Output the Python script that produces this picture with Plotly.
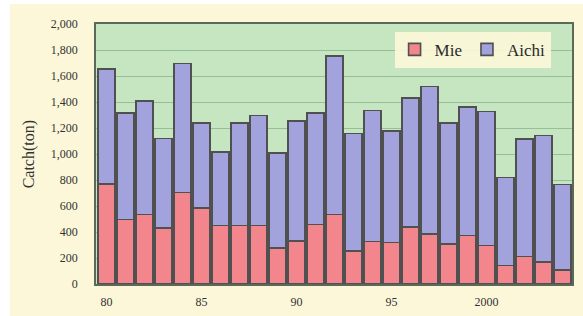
import plotly.graph_objects as go

years = list(range(1980, 2005))
mie = [769, 495, 535, 430, 705, 585, 450, 450, 450, 275,
       330, 458, 535, 252, 328, 318, 438, 384, 308, 374,
       295, 141, 213, 167, 110]
total = [1655, 1315, 1410, 1120, 1697, 1240, 1015, 1238, 1296, 1008,
         1252, 1314, 1755, 1157, 1335, 1176, 1432, 1520, 1238, 1360,
         1326, 820, 1115, 1142, 765]
aichi = [t - m for t, m in zip(total, mie)]
xtick_vals = [1980, 1985, 1990, 1995, 2000]
xtick_text = ["80", "85", "90", "95", "2000"]
ytick_vals = list(range(0, 2001, 200))
ytick_text = [f"{v:,}" for v in ytick_vals]

serif = "Liberation Serif"
edge = dict(color="#505050", width=1.6)

W, H = 583, 316
ML, MR, MT, MB = 96, 11, 24, 32
PW, PH = W - ML - MR, H - MT - MB

fig = go.Figure()
fig.add_trace(go.Bar(x=years, y=mie, name="Mie",
                     marker=dict(color="#f2868c", line=edge)))
fig.add_trace(go.Bar(x=years, y=aichi, name="Aichi",
                     marker=dict(color="#a2a2dc", line=edge)))

white_strips = [
    dict(type="rect", xref="paper", yref="paper", layer="below",
         x0=-ML / PW, x1=(10 - ML) / PW, y0=-MB / PH, y1=(PH + MT) / PH,
         fillcolor="#ffffff", line=dict(width=0)),
    dict(type="rect", xref="paper", yref="paper", layer="below",
         x0=-ML / PW, x1=(PW + MR) / PW, y0=(PH + MT - 4) / PH, y1=(PH + MT) / PH,
         fillcolor="#ffffff", line=dict(width=0)),
]

fig.update_layout(
    barmode="stack",
    bargap=0.1,
    width=W, height=H,
    margin=dict(l=ML, r=MR, t=MT, b=MB, autoexpand=False),
    paper_bgcolor="#fcf7d9",
    plot_bgcolor="#c6e6c2",
    font=dict(family=serif, color="#333333"),
    shapes=white_strips,
    legend=dict(orientation="h", x=0.955, xanchor="right", y=0.97, yanchor="top",
                bgcolor="rgba(252,247,217,0.9)",
                font=dict(family=serif, size=17, color="#2a2a2a"),
                itemwidth=30, traceorder="normal", tracegroupgap=0),
    xaxis=dict(range=[1979.45, 2004.5], tickvals=xtick_vals, ticktext=xtick_text,
               automargin=False,
               ticks="outside", ticklen=6, tickcolor="rgba(0,0,0,0)",
               tickfont=dict(family=serif, size=12, color="#333333"),
               showgrid=False, showline=True, linecolor="#5a6a5a", linewidth=1.5,
               mirror=True, zeroline=False),
    yaxis=dict(range=[0, 2000], tickvals=ytick_vals, ticktext=ytick_text,
               automargin=False,
               ticks="outside", ticklen=14, tickcolor="rgba(0,0,0,0)",
               tickfont=dict(family=serif, size=12, color="#333333"),
               showgrid=True, gridcolor="#97bf97", gridwidth=1,
               showline=True, linecolor="#5a6a5a", linewidth=1.5, mirror=True,
               zeroline=False),
    annotations=[dict(text="Catch(ton)", textangle=-90, xref="paper", yref="paper",
                      x=-0.14, y=0.5, xanchor="center", yanchor="middle",
                      showarrow=False, font=dict(family=serif, size=16, color="#333333"))],
)

fig.write_html("out.html", config={"displayModeBar": False},
               post_script="document.body.style.margin='0';document.body.style.overflow='hidden';")
